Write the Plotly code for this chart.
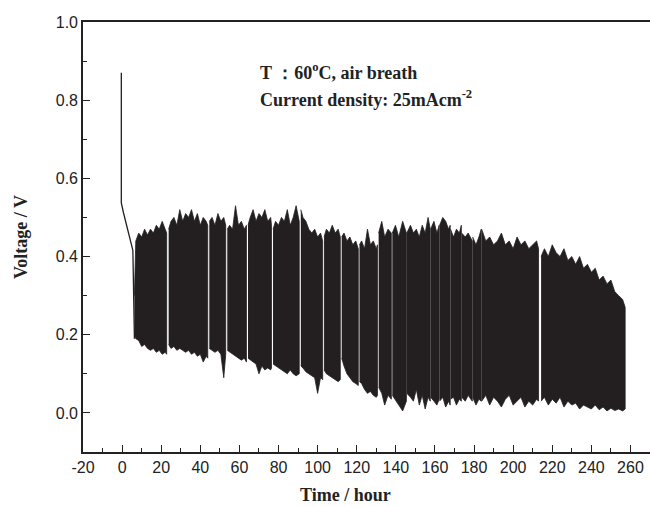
import plotly.graph_objects as go

# ---- data ----
# initial open-circuit spike and decline (hours, volts)
init_t = [-0.4, -0.4, 0.7, 2.1, 3.8, 5.5, 6.3]
init_v = [0.870, 0.537, 0.512, 0.486, 0.451, 0.416, 0.19]

# operating segments separated by refresh gaps (hours)
seg_start = [6.3, 23.8, 44.6, 53.8, 64.4, 77.2, 91.4, 103.3, 112.3, 121.4,
             131.2, 138.2, 145.6, 157.8, 162.4, 168.0, 173.7, 179.3, 183.9, 214.3]
seg_end = [22.8, 43.8, 53.0, 63.6, 76.4, 90.6, 102.6, 111.6, 120.8, 130.6,
           137.7, 145.4, 157.6, 162.2, 167.8, 173.5, 179.1, 183.7, 213.0, 257.3]

# envelope of the oscillating voltage: time, upper and lower values
env_t = [6.3, 7.0, 8.5, 10, 11.5, 13, 14.5, 16, 17.5, 19, 20.5, 22, 22.8,
         23.8, 25, 26.5, 28, 29.5, 31, 32.5, 34, 35.5, 37, 38.5, 40, 41.5, 43, 43.8,
         44.6, 46, 47.5, 49, 50.5, 52, 53,
         53.8, 55, 56.5, 58, 59.5, 61, 62.5, 63.6,
         64.4, 65.5, 67, 68.5, 70, 71.5, 73, 74.5, 76, 76.4,
         77.2, 78.5, 80, 81.5, 83, 84.5, 86, 87.5, 89, 90.6,
         91.4, 92.5, 94, 95.5, 97, 98.5, 100, 101.5, 102.6,
         103.3, 104.5, 106, 107.5, 109, 110.5, 111.6,
         112.3, 113.5, 115, 116.5, 118, 119.5, 120.8,
         121.4, 122.5, 124, 125.5, 127, 128.5, 130, 130.6,
         131.2, 132.8, 134.3, 136, 137.7,
         138.2, 139.8, 141.5, 143.5, 145.4,
         145.6, 147.5, 149, 150.5, 152, 153.5, 155, 156.5, 157.6,
         157.8, 159.5, 161, 162.2,
         162.4, 164, 165.5, 167, 167.8,
         168.0, 169.5, 171, 172.5, 173.5,
         173.7, 175.5, 177, 179.1,
         179.3, 181, 182.5, 183.7,
         183.9, 186, 188, 190, 192, 194, 196, 198, 200, 202, 204, 206, 208, 210, 212, 213,
         214.3, 216, 218, 220, 222, 224, 226, 228, 230, 232, 234, 236, 238, 240, 242, 244,
         246, 248, 250, 252, 254, 256, 257.3]
env_hi = [0.30, 0.44, 0.46, 0.45, 0.47, 0.455, 0.47, 0.46, 0.48, 0.47, 0.49, 0.47, 0.46,
          0.47, 0.49, 0.50, 0.48, 0.52, 0.49, 0.51, 0.50, 0.52, 0.49, 0.51, 0.48, 0.50, 0.49, 0.48,
          0.49, 0.50, 0.48, 0.51, 0.49, 0.50, 0.48,
          0.47, 0.48, 0.47, 0.53, 0.48, 0.49, 0.47, 0.48,
          0.48, 0.50, 0.52, 0.49, 0.51, 0.50, 0.52, 0.49, 0.50, 0.48,
          0.47, 0.49, 0.48, 0.50, 0.49, 0.52, 0.48, 0.50, 0.53, 0.49,
          0.52, 0.50, 0.49, 0.47, 0.46, 0.47, 0.45, 0.46, 0.44,
          0.45, 0.47, 0.46, 0.48, 0.46, 0.47, 0.45,
          0.45, 0.46, 0.44, 0.45, 0.43, 0.44, 0.42,
          0.43, 0.44, 0.42, 0.47, 0.43, 0.44, 0.42, 0.43,
          0.46, 0.49, 0.45, 0.47, 0.46,
          0.46, 0.48, 0.45, 0.49, 0.46,
          0.46, 0.48, 0.46, 0.47, 0.45, 0.48, 0.46, 0.50, 0.47,
          0.47, 0.49, 0.46, 0.48,
          0.48, 0.50, 0.49, 0.47, 0.48,
          0.47, 0.45, 0.47, 0.46, 0.48,
          0.46, 0.45, 0.46, 0.44,
          0.45, 0.43, 0.45, 0.47,
          0.47, 0.44, 0.45, 0.43, 0.44, 0.46, 0.43, 0.44, 0.42, 0.45, 0.43, 0.44, 0.42, 0.43, 0.44, 0.42,
          0.40, 0.42, 0.40, 0.43, 0.41, 0.40, 0.42, 0.39, 0.40, 0.38, 0.40, 0.37, 0.38, 0.36, 0.37, 0.34,
          0.35, 0.33, 0.34, 0.31, 0.30, 0.29, 0.27]
env_lo = [0.20, 0.19, 0.185, 0.17, 0.175, 0.165, 0.16, 0.165, 0.155, 0.16, 0.15, 0.155, 0.15,
          0.175, 0.165, 0.17, 0.16, 0.165, 0.16, 0.155, 0.16, 0.15, 0.155, 0.145, 0.15, 0.13, 0.145, 0.14,
          0.165, 0.16, 0.155, 0.16, 0.15, 0.09, 0.15,
          0.16, 0.155, 0.15, 0.145, 0.14, 0.135, 0.14, 0.13,
          0.14, 0.135, 0.13, 0.125, 0.10, 0.12, 0.11, 0.115, 0.11, 0.115,
          0.125, 0.12, 0.115, 0.11, 0.105, 0.10, 0.11, 0.10, 0.095, 0.10,
          0.12, 0.115, 0.105, 0.10, 0.095, 0.09, 0.05, 0.09, 0.085,
          0.11, 0.10, 0.095, 0.09, 0.085, 0.08, 0.085,
          0.14, 0.12, 0.10, 0.09, 0.08, 0.075, 0.07,
          0.08, 0.075, 0.06, 0.05, 0.055, 0.045, 0.04, 0.045,
          0.066, 0.05, 0.02, 0.045, 0.035,
          0.045, 0.03, 0.02, 0.005, 0.03,
          0.05, 0.04, 0.03, 0.06, 0.02, 0.045, 0.01, 0.04, 0.03,
          0.04, 0.03, 0.02, 0.035,
          0.03, 0.04, 0.015, 0.03, 0.02,
          0.035, 0.04, 0.02, 0.035, 0.03,
          0.04, 0.03, 0.045, 0.03,
          0.04, 0.02, 0.035, 0.03,
          0.03, 0.045, 0.02, 0.04, 0.03, 0.015, 0.035, 0.045, 0.02, 0.03, 0.04, 0.015, 0.03, 0.02, 0.035, 0.03,
          0.03, 0.04, 0.02, 0.035, 0.025, 0.04, 0.015, 0.03, 0.02, 0.025, 0.01, 0.02, 0.015, 0.01, 0.02, 0.008,
          0.015, 0.005, 0.012, 0.006, 0.01, 0.005, 0.01]

x_ticks = [-20, 0, 20, 40, 60, 80, 100, 120, 140, 160, 180, 200, 220, 240, 260]
x_ticktext = ["-20", "0", "20", "40", "60", "80", "100", "120", "140", "160",
              "180", "200", "220", "240", "260"]
y_ticks = [0.0, 0.2, 0.4, 0.6, 0.8, 1.0]
y_ticktext = ["0.0", "0.2", "0.4", "0.6", "0.8", "1.0"]

INK = "#231f20"

fig = go.Figure()

for s, e in zip(seg_start, seg_end):
    idx = [i for i, t in enumerate(env_t) if s - 1e-9 <= t <= e + 1e-9]
    xs = [env_t[i] for i in idx] + [env_t[i] for i in reversed(idx)]
    ys = [env_hi[i] for i in idx] + [env_lo[i] for i in reversed(idx)]
    fig.add_trace(go.Scatter(x=xs, y=ys, mode="lines", fill="toself",
                             fillcolor=INK, line=dict(color=INK, width=0.8),
                             hoverinfo="skip", showlegend=False))

fig.add_trace(go.Scatter(x=init_t, y=init_v, mode="lines",
                         line=dict(color=INK, width=1.3), showlegend=False))

axis_font = dict(family="Liberation Sans, Arial, sans-serif", size=16, color="#222222")

fig.update_xaxes(range=[-20, 270], tickvals=x_ticks, ticktext=x_ticktext,
                 ticks="inside", ticklen=7,
                 tickwidth=1.2, tickcolor="#222222", showline=True, linewidth=1.6,
                 linecolor="#222222", mirror=True, showgrid=False, zeroline=False,
                 tickfont=axis_font,
                 minor=dict(dtick=10, tick0=0, ticks="inside", ticklen=4,
                            tickwidth=1.1, tickcolor="#222222", showgrid=False))
fig.update_yaxes(range=[-0.1, 1.0], tickvals=y_ticks, ticktext=y_ticktext,
                 ticks="inside", ticklen=7, tickwidth=1.2, tickcolor="#222222",
                 showline=True, linewidth=1.6, linecolor="#222222", mirror=False,
                 showgrid=False, zeroline=False, tickfont=axis_font,
                 minor=dict(dtick=0.1, tick0=0, ticks="inside", ticklen=4,
                            tickwidth=1.1, tickcolor="#222222", showgrid=False))

serif_b = dict(family="Liberation Serif, Times New Roman, serif", size=18, color="#222222")

annotations = [
    dict(text="<b>Time / hour</b>", xref="paper", yref="paper",
         x=(345 - 83) / 567, y=(452 - 495) / 430, xanchor="center", yanchor="middle",
         showarrow=False, font=serif_b),
    dict(text="<b>Voltage / V</b>", xref="paper", yref="paper",
         x=(21 - 83) / 567, y=0.5, xanchor="center", yanchor="middle",
         textangle=-90, showarrow=False, font=serif_b),
    dict(text="<b>T ：60<sup>o</sup>C, air breath</b>", xref="paper", yref="paper",
         x=(258 - 83) / 567, y=(452 - 71) / 430, xanchor="left", yanchor="middle",
         showarrow=False, font=serif_b),
    dict(text="<b>Current density: 25mAcm<sup>-2</sup></b>", xref="paper", yref="paper",
         x=(258 - 83) / 567, y=(452 - 99) / 430, xanchor="left", yanchor="middle",
         showarrow=False, font=serif_b),
]

fig.update_layout(width=650, height=507, margin=dict(l=83, r=0, t=22, b=55),
                  paper_bgcolor="white", plot_bgcolor="white",
                  annotations=annotations, showlegend=False)

fig.write_html("out.html")
